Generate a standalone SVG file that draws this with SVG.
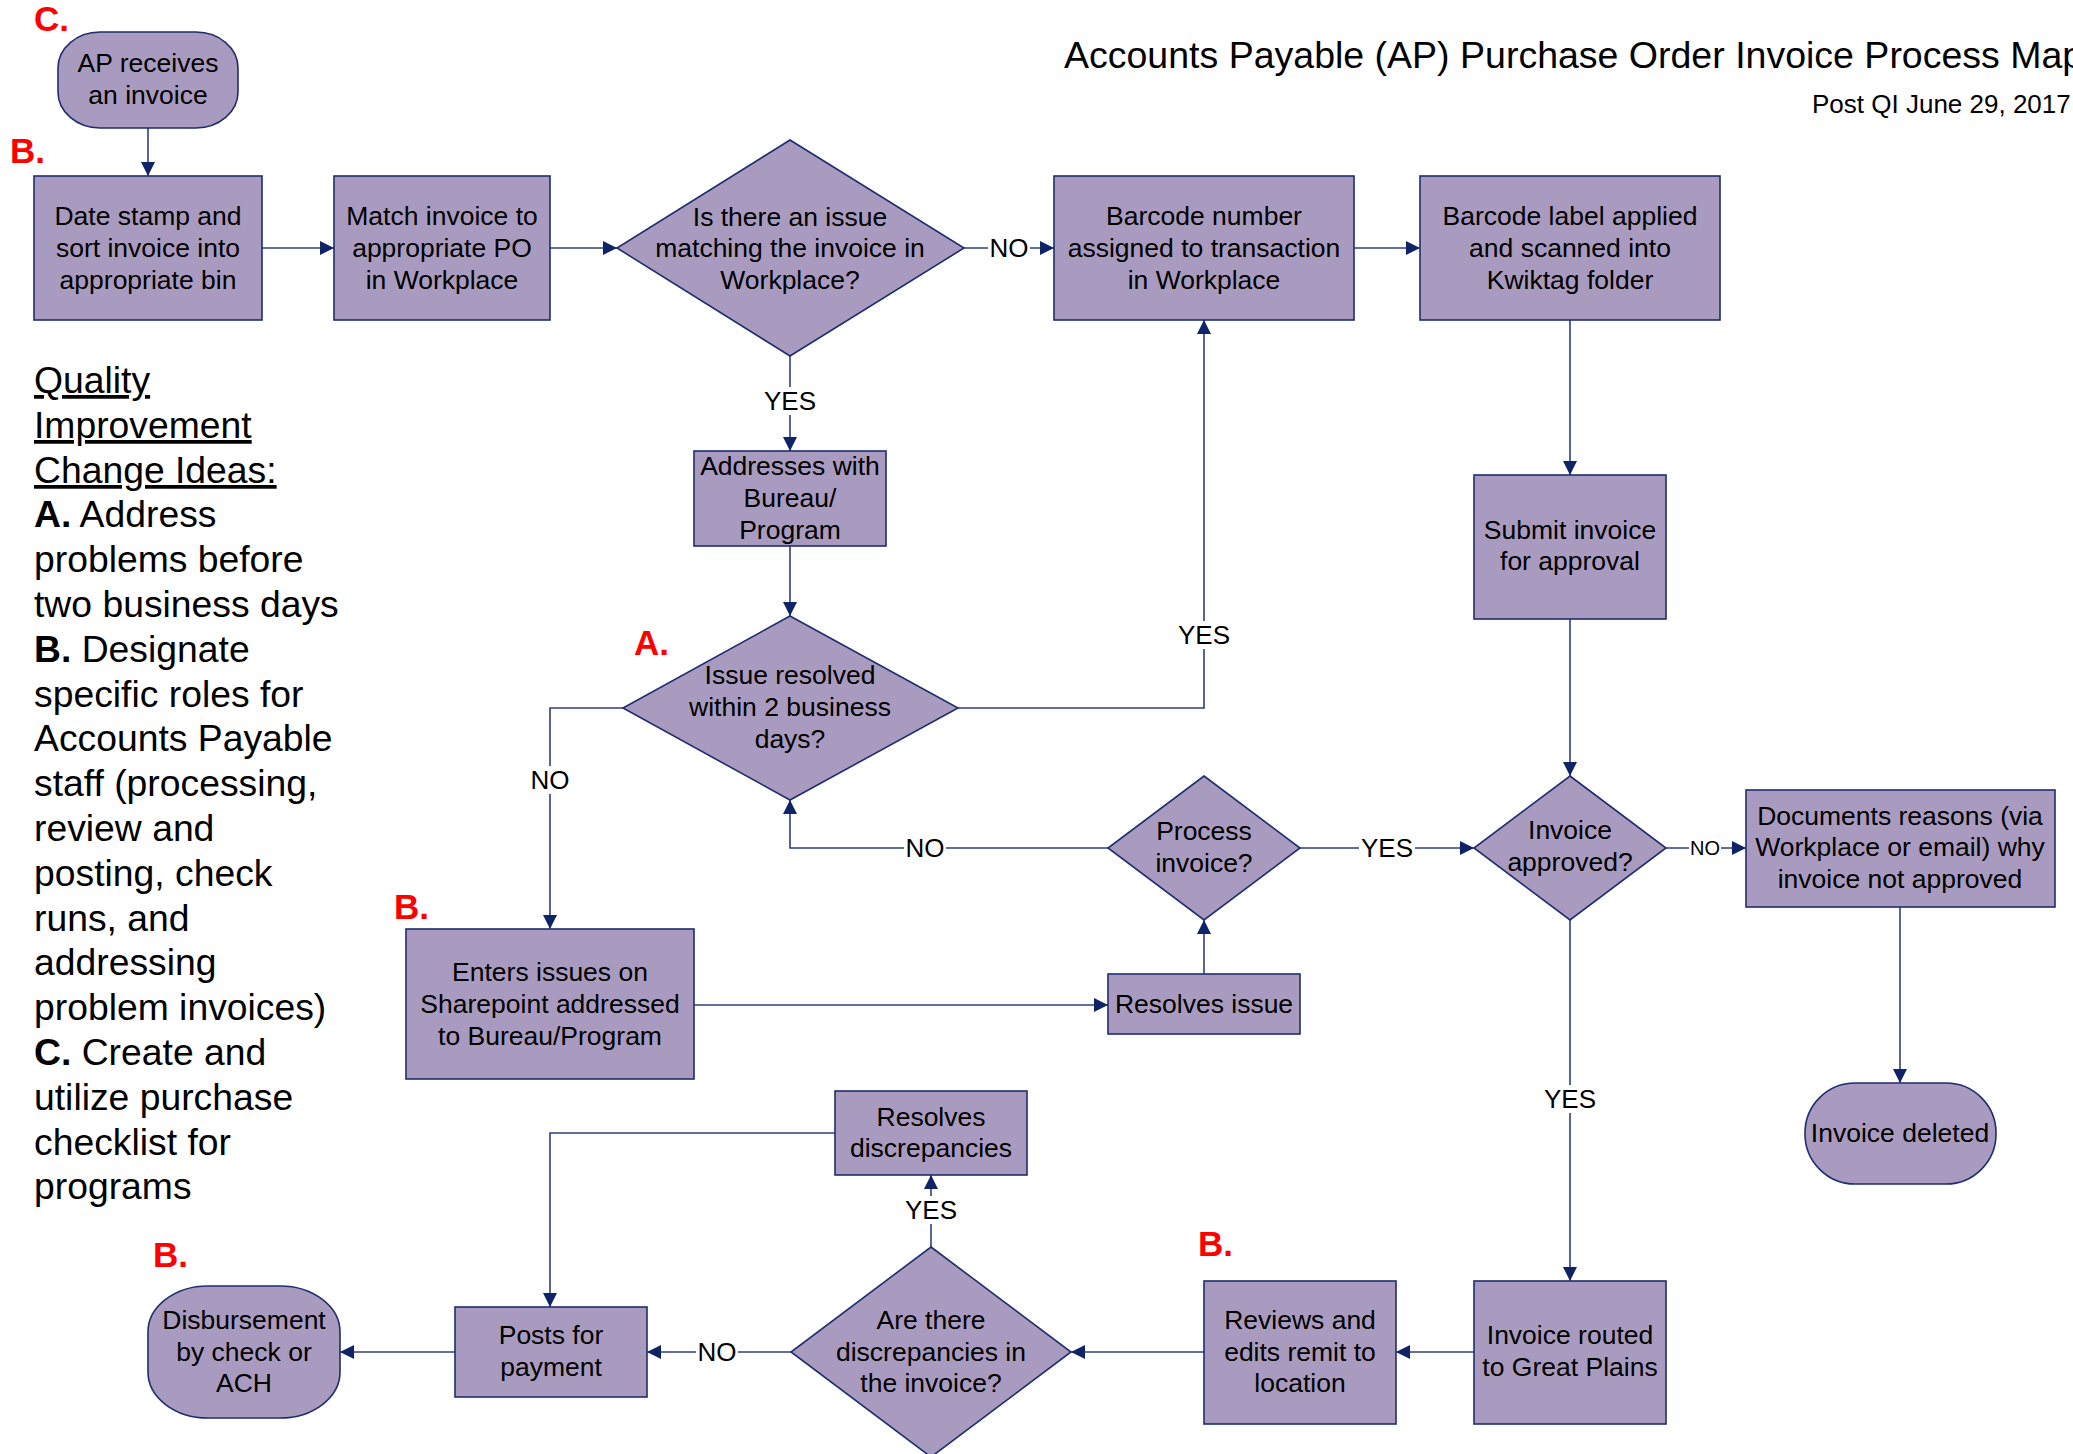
<svg xmlns="http://www.w3.org/2000/svg" width="2073" height="1454" viewBox="0 0 2073 1454">
<defs>
<marker id="ah" markerUnits="userSpaceOnUse" markerWidth="14" markerHeight="14" refX="14" refY="7" orient="auto"><path d="M0,0 L14,7 L0,14 z" fill="#0F2466"/></marker>
<style>
.n{fill:#A99BBF;stroke:#1E2D6E;stroke-width:1.6}
.t{font-family:"Liberation Sans",Arial,sans-serif;font-size:26.5px;fill:#000;text-anchor:middle}
.c{fill:none;stroke:#2E3F82;stroke-width:1.6;marker-end:url(#ah)}
.l{font-family:"Liberation Sans",Arial,sans-serif;font-size:26px;fill:#000;text-anchor:middle}
.bg{fill:#fff}
.r{font-family:"Liberation Sans",Arial,sans-serif;font-size:35px;font-weight:bold;fill:#FF0000}
.q{font-family:"Liberation Sans",Arial,sans-serif;font-size:37.3px;fill:#000}
</style>
</defs>
<rect width="2073" height="1454" fill="#fff"/>
<text x="1064" y="68" font-family="Liberation Sans, Arial, sans-serif" font-size="37.5" fill="#000">Accounts Payable (AP) Purchase Order Invoice Process Map</text>
<text x="1812" y="113" font-family="Liberation Sans, Arial, sans-serif" font-size="26" fill="#000">Post QI June 29, 2017</text>

<g id="connectors">
<path class="c" d="M148,128 V176"/>
<path class="c" d="M262,248 H334"/>
<path class="c" d="M550,248 H617"/>
<path class="c" d="M964,248 H1054"/>
<path class="c" d="M1354,248 H1420"/>
<path class="c" d="M1570,320 V475"/>
<path class="c" d="M790,356 V451"/>
<path class="c" d="M790,546 V616"/>
<path class="c" d="M958,708 H1204 V320"/>
<path class="c" d="M623,708 H550 V929"/>
<path class="c" d="M694,1005 H1108"/>
<path class="c" d="M1204,974 V920"/>
<path class="c" d="M1108,848 H790 V800"/>
<path class="c" d="M1300,848 H1474"/>
<path class="c" d="M1570,619 V776"/>
<path class="c" d="M1666,848 H1746"/>
<path class="c" d="M1900,907 V1083"/>
<path class="c" d="M1570,920 V1281"/>
<path class="c" d="M1474,1352 H1396"/>
<path class="c" d="M1204,1352 H1071"/>
<path class="c" d="M791,1352 H647"/>
<path class="c" d="M455,1352 H340"/>
<path class="c" d="M931,1247 V1175"/>
<path class="c" d="M835,1133 H550 V1307"/>
<rect class="bg" x="988" y="234" width="42" height="28"/><text class="l" x="1009" y="257">NO</text>
<rect class="bg" x="762" y="387" width="56" height="28"/><text class="l" x="790" y="410">YES</text>
<rect class="bg" x="1176" y="621" width="56" height="28"/><text class="l" x="1204" y="644">YES</text>
<rect class="bg" x="529" y="766" width="42" height="28"/><text class="l" x="550" y="789">NO</text>
<rect class="bg" x="904" y="834" width="42" height="28"/><text class="l" x="925" y="857">NO</text>
<rect class="bg" x="1359" y="834" width="56" height="28"/><text class="l" x="1387" y="857">YES</text>
<rect class="bg" x="1689" y="838" width="32" height="22"/><text class="l" x="1705" y="855" style="font-size:20px">NO</text>
<rect class="bg" x="1542" y="1085" width="56" height="28"/><text class="l" x="1570" y="1108">YES</text>
<rect class="bg" x="696" y="1338" width="42" height="28"/><text class="l" x="717" y="1361">NO</text>
<rect class="bg" x="903" y="1196" width="56" height="28"/><text class="l" x="931" y="1219">YES</text>
</g>

<g id="n-ap"><rect class="n" x="58" y="32" width="180" height="96" rx="42" ry="36"/><text class="t" x="148" y="72">AP receives</text><text class="t" x="148" y="104">an invoice</text></g>
<g id="n-date"><rect class="n" x="34" y="176" width="228" height="144"/><text class="t" x="148" y="225">Date stamp and</text><text class="t" x="148" y="257">sort invoice into</text><text class="t" x="148" y="289">appropriate bin</text></g>
<g id="n-match"><rect class="n" x="334" y="176" width="216" height="144"/><text class="t" x="442" y="225">Match invoice to</text><text class="t" x="442" y="257">appropriate PO</text><text class="t" x="442" y="289">in Workplace</text></g>
<g id="n-issue"><polygon class="n" points="790,140 964,248 790,356 617,248"/><text class="t" x="790" y="226">Is there an issue</text><text class="t" x="790" y="257">matching the invoice in</text><text class="t" x="790" y="289">Workplace?</text></g>
<g id="n-barnum"><rect class="n" x="1054" y="176" width="300" height="144"/><text class="t" x="1204" y="225">Barcode number</text><text class="t" x="1204" y="257">assigned to transaction</text><text class="t" x="1204" y="289">in Workplace</text></g>
<g id="n-barlabel"><rect class="n" x="1420" y="176" width="300" height="144"/><text class="t" x="1570" y="225">Barcode label applied</text><text class="t" x="1570" y="257">and scanned into</text><text class="t" x="1570" y="289">Kwiktag folder</text></g>
<g id="n-addr"><rect class="n" x="694" y="451" width="192" height="95"/><text class="t" x="790" y="475">Addresses with</text><text class="t" x="790" y="507">Bureau/</text><text class="t" x="790" y="539">Program</text></g>
<g id="n-resolved"><polygon class="n" points="790,616 958,708 790,800 623,708"/><text class="t" x="790" y="684">Issue resolved</text><text class="t" x="790" y="716">within 2 business</text><text class="t" x="790" y="748">days?</text></g>
<g id="n-submit"><rect class="n" x="1474" y="475" width="192" height="144"/><text class="t" x="1570" y="539">Submit invoice</text><text class="t" x="1570" y="570">for approval</text></g>
<g id="n-enters"><rect class="n" x="406" y="929" width="288" height="150"/><text class="t" x="550" y="981">Enters issues on</text><text class="t" x="550" y="1013">Sharepoint addressed</text><text class="t" x="550" y="1045">to Bureau/Program</text></g>
<g id="n-resissue"><rect class="n" x="1108" y="974" width="192" height="60"/><text class="t" x="1204" y="1013">Resolves issue</text></g>
<g id="n-process"><polygon class="n" points="1204,776 1300,848 1204,920 1108,848"/><text class="t" x="1204" y="840">Process</text><text class="t" x="1204" y="872">invoice?</text></g>
<g id="n-approved"><polygon class="n" points="1570,776 1666,848 1570,920 1474,848"/><text class="t" x="1570" y="839">Invoice</text><text class="t" x="1570" y="871">approved?</text></g>
<g id="n-docs"><rect class="n" x="1746" y="790" width="309" height="117"/><text class="t" x="1900" y="825">Documents reasons (via</text><text class="t" x="1900" y="856">Workplace or email) why</text><text class="t" x="1900" y="888">invoice not approved</text></g>
<g id="n-deleted"><rect class="n" x="1805" y="1083" width="191" height="101" rx="50" ry="50"/><text class="t" x="1900" y="1142">Invoice deleted</text></g>
<g id="n-routed"><rect class="n" x="1474" y="1281" width="192" height="143"/><text class="t" x="1570" y="1344">Invoice routed</text><text class="t" x="1570" y="1376">to Great Plains</text></g>
<g id="n-reviews"><rect class="n" x="1204" y="1281" width="192" height="143"/><text class="t" x="1300" y="1329">Reviews and</text><text class="t" x="1300" y="1361">edits remit to</text><text class="t" x="1300" y="1392">location</text></g>
<g id="n-discq"><polygon class="n" points="931,1247 1071,1352 931,1457 791,1352"/><text class="t" x="931" y="1329">Are there</text><text class="t" x="931" y="1361">discrepancies in</text><text class="t" x="931" y="1392">the invoice?</text></g>
<g id="n-resdisc"><rect class="n" x="835" y="1091" width="192" height="84"/><text class="t" x="931" y="1126">Resolves</text><text class="t" x="931" y="1157">discrepancies</text></g>
<g id="n-posts"><rect class="n" x="455" y="1307" width="192" height="90"/><text class="t" x="551" y="1344">Posts for</text><text class="t" x="551" y="1376">payment</text></g>
<g id="n-disb"><rect class="n" x="148" y="1286" width="192" height="132" rx="60" ry="46"/><text class="t" x="244" y="1329">Disbursement</text><text class="t" x="244" y="1361">by check or</text><text class="t" x="244" y="1392">ACH</text></g>

<g id="red-marks">
<text class="r" x="34" y="31">C.</text>
<text class="r" x="10" y="163">B.</text>
<text class="r" x="634" y="655">A.</text>
<text class="r" x="394" y="919">B.</text>
<text class="r" x="153" y="1267">B.</text>
<text class="r" x="1198" y="1256">B.</text>
</g>

<g id="qi-notes">
<text class="q" x="34" y="393" text-decoration="underline">Quality</text>
<text class="q" x="34" y="438" text-decoration="underline">Improvement</text>
<text class="q" x="34" y="483" text-decoration="underline">Change Ideas:</text>
<text class="q" x="34" y="527"><tspan font-weight="bold">A.</tspan> Address</text>
<text class="q" x="34" y="572">problems before</text>
<text class="q" x="34" y="617">two business days</text>
<text class="q" x="34" y="662"><tspan font-weight="bold">B.</tspan> Designate</text>
<text class="q" x="34" y="707">specific roles for</text>
<text class="q" x="34" y="751">Accounts Payable</text>
<text class="q" x="34" y="796">staff (processing,</text>
<text class="q" x="34" y="841">review and</text>
<text class="q" x="34" y="886">posting, check</text>
<text class="q" x="34" y="931">runs, and</text>
<text class="q" x="34" y="975">addressing</text>
<text class="q" x="34" y="1020">problem invoices)</text>
<text class="q" x="34" y="1065"><tspan font-weight="bold">C.</tspan> Create and</text>
<text class="q" x="34" y="1110">utilize purchase</text>
<text class="q" x="34" y="1155">checklist for</text>
<text class="q" x="34" y="1199">programs</text>
</g>
</svg>
